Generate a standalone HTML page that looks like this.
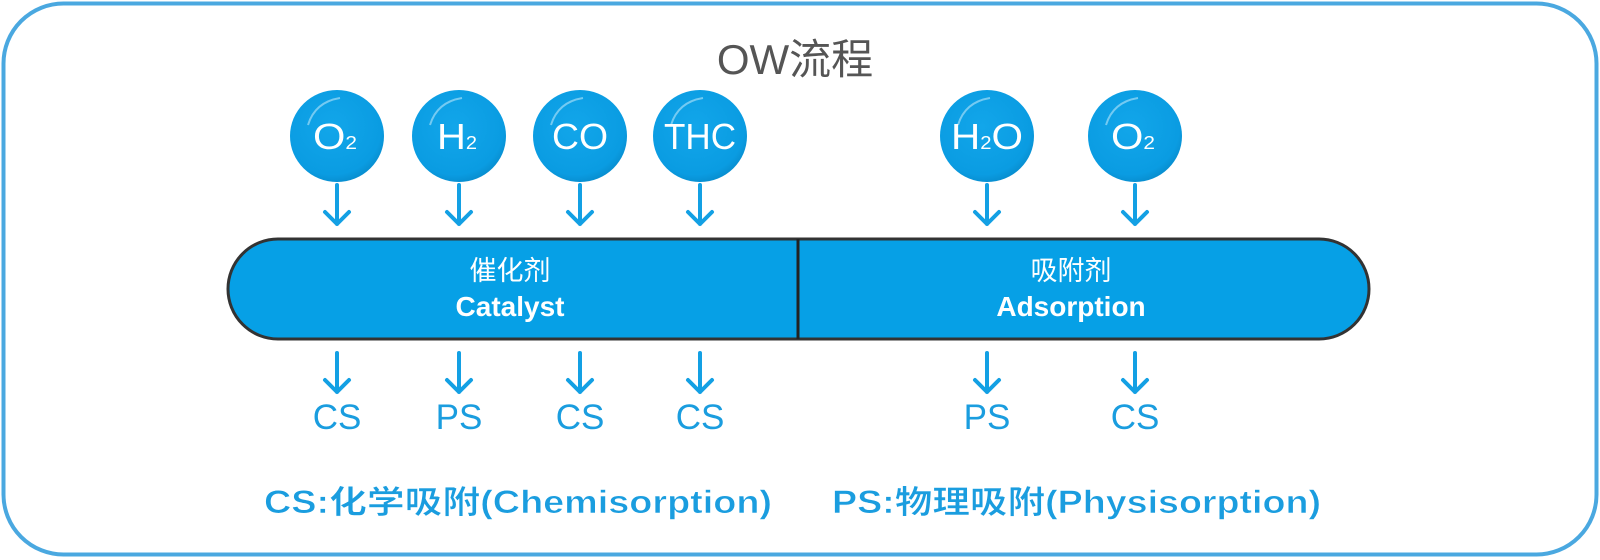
<!DOCTYPE html>
<html><head><meta charset="utf-8"><style>
html,body{margin:0;padding:0;background:#fff}
svg{display:block}
</style></head><body>
<svg width="1600" height="560" viewBox="0 0 1600 560" xmlns="http://www.w3.org/2000/svg">
<defs>
<radialGradient id="bub" cx="0.45" cy="0.4" r="0.65">
<stop offset="0" stop-color="#12a6ea"/>
<stop offset="0.8" stop-color="#0a9ce2"/>
<stop offset="1" stop-color="#0788c8"/>
</radialGradient>
</defs>
<rect x="3.5" y="3.5" width="1593" height="551" rx="60" fill="#fff" stroke="#4aa8e0" stroke-width="4"/>
<text x="795" y="74" text-anchor="middle" font-family="Liberation Sans, Noto Sans CJK SC, sans-serif" font-size="42" fill="#555">OW流程</text>
<g stroke="none">
<ellipse cx="337" cy="136" rx="47" ry="46" fill="url(#bub)"/>
<ellipse cx="459" cy="136" rx="47" ry="46" fill="url(#bub)"/>
<ellipse cx="580" cy="136" rx="47" ry="46" fill="url(#bub)"/>
<ellipse cx="700" cy="136" rx="47" ry="46" fill="url(#bub)"/>
<ellipse cx="987" cy="136" rx="47" ry="46" fill="url(#bub)"/>
<ellipse cx="1135" cy="136" rx="47" ry="46" fill="url(#bub)"/>
</g>
<g fill="none" stroke="#9fdcf6" stroke-width="2" opacity="0.7">
<path d="M308 125 Q315 102 340 98"/><path d="M430 125 Q437 102 462 98"/><path d="M551 125 Q558 102 583 98"/><path d="M671 125 Q678 102 703 98"/><path d="M958 125 Q965 102 990 98"/><path d="M1106 125 Q1113 102 1138 98"/>
</g>
<g font-family="Liberation Sans Narrow, Liberation Sans, sans-serif" fill="#fff" font-size="36" text-anchor="middle">
<text x="335" y="149" textLength="44" lengthAdjust="spacingAndGlyphs">O<tspan font-size="18">2</tspan></text>
<text x="457" y="149" textLength="40" lengthAdjust="spacingAndGlyphs">H<tspan font-size="18">2</tspan></text>
<text x="580" y="149" textLength="56" lengthAdjust="spacingAndGlyphs">CO</text>
<text x="700" y="149" textLength="72" lengthAdjust="spacingAndGlyphs">THC</text>
<text x="987" y="149" textLength="72" lengthAdjust="spacingAndGlyphs">H<tspan font-size="18">2</tspan>O</text>
<text x="1133" y="149" textLength="44" lengthAdjust="spacingAndGlyphs">O<tspan font-size="18">2</tspan></text>
</g>
<g stroke="#13a0e4" stroke-width="4" fill="none" stroke-linecap="round" stroke-linejoin="round">
<path d="M337 185V224M325 212L337 224L349 212"/>
<path d="M459 185V224M447 212L459 224L471 212"/>
<path d="M580 185V224M568 212L580 224L592 212"/>
<path d="M700 185V224M688 212L700 224L712 212"/>
<path d="M987 185V224M975 212L987 224L999 212"/>
<path d="M1135 185V224M1123 212L1135 224L1147 212"/>
<g transform="translate(0,168)">
<path d="M337 185V224M325 212L337 224L349 212"/>
<path d="M459 185V224M447 212L459 224L471 212"/>
<path d="M580 185V224M568 212L580 224L592 212"/>
<path d="M700 185V224M688 212L700 224L712 212"/>
<path d="M987 185V224M975 212L987 224L999 212"/>
<path d="M1135 185V224M1123 212L1135 224L1147 212"/>
</g>
</g>
<rect x="228" y="239" width="1141" height="100" rx="50" fill="#06a0e6" stroke="#333" stroke-width="3"/>
<line x1="798" y1="239" x2="798" y2="339" stroke="#222" stroke-width="3"/>
<g font-family="Liberation Sans, Noto Sans CJK SC, sans-serif" fill="#fff" font-size="27" text-anchor="middle">
<text x="510" y="280">催化剂</text>
<text x="510" y="316" font-weight="bold" font-size="28">Catalyst</text>
<text x="1071" y="280">吸附剂</text>
<text x="1071" y="316" font-weight="bold" font-size="28">Adsorption</text>
</g>
<g font-family="Liberation Sans, sans-serif" fill="#1a9ddf" font-size="35" text-anchor="middle">
<text x="337" y="429">CS</text>
<text x="459" y="429">PS</text>
<text x="580" y="429">CS</text>
<text x="700" y="429">CS</text>
<text x="987" y="429">PS</text>
<text x="1135" y="429">CS</text>
</g>
<g font-family="Liberation Sans, Noto Sans CJK SC, sans-serif" fill="#1a9ddf" font-size="32" font-weight="bold" stroke="#fff" stroke-width="0.6">
<text x="264" y="513" textLength="508" lengthAdjust="spacingAndGlyphs">CS:化学吸附(Chemisorption)</text>
<text x="832" y="513" textLength="489" lengthAdjust="spacingAndGlyphs">PS:物理吸附(Physisorption)</text>
</g>
</svg>
</body></html>
